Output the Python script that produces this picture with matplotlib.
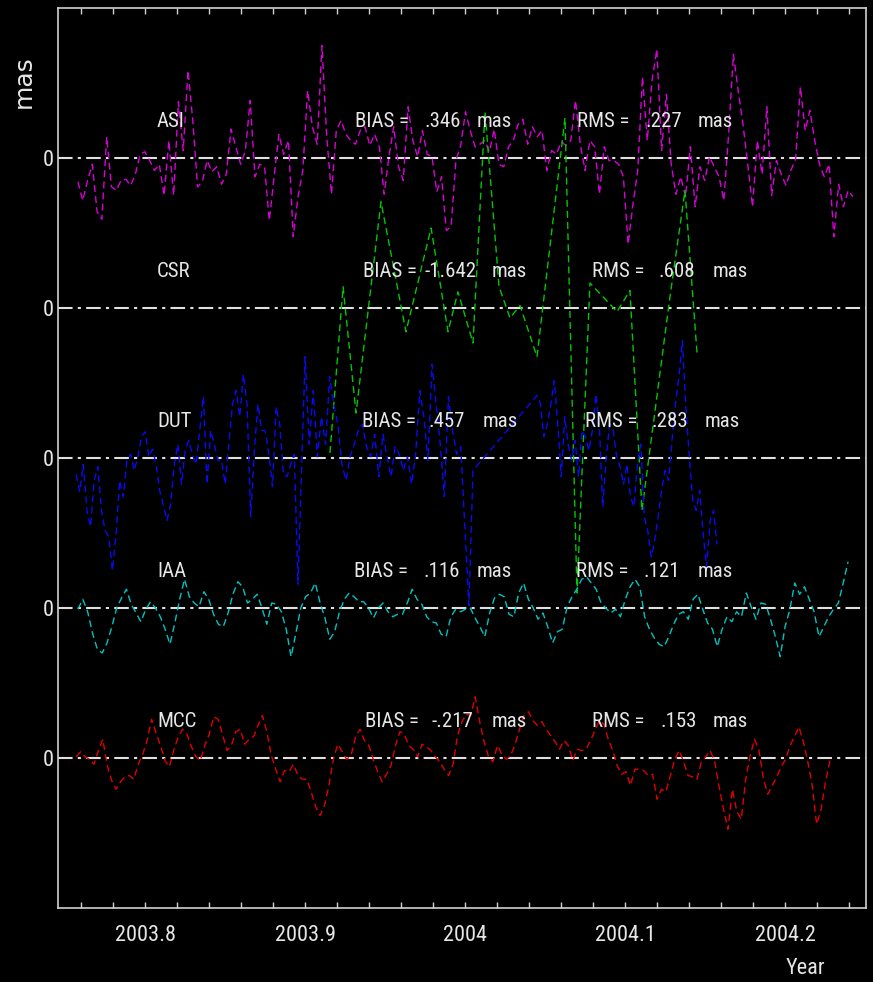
import numpy as np
import matplotlib
matplotlib.use('Agg')
import matplotlib.pyplot as plt
from matplotlib import font_manager
from matplotlib.ticker import MultipleLocator, FuncFormatter
from matplotlib.transforms import blended_transform_factory

# the reference uses a thin, very narrow vector font: take the narrowest family installed
nomes = {f.name for f in font_manager.fontManager.ttflist}
preferidas = ['Noto Sans ExtraCondensed Light', 'Noto Sans ExtraCondensed',
              'Noto Sans Condensed Light', 'Noto Sans Condensed',
              'Roboto Condensed Light', 'Roboto Condensed',
              'Open Sans Condensed Light', 'Liberation Sans Narrow']
FONTE = next((f for f in preferidas if f in nomes), None)
if FONTE is not None:
    plt.rcParams['font.family'] = [FONTE, 'DejaVu Sans']
    FS = 15 if 'Condensed' in FONTE else 13
else:
    plt.rcParams['font.family'] = 'DejaVu Sans'
    plt.rcParams['font.stretch'] = 'condensed'
    FS = 13

# residuals in mas, one list per centre
asi = [-0.19, -0.34, -0.18, -0.05, -0.43, -0.49, 0.17, -0.23, -0.26, -0.18,
       -0.17, -0.22, -0.13, 0.03, 0.05, -0.02, -0.10, -0.05, -0.30, 0.14,
       -0.30, 0.45, 0.06, 0.70, 0.30, -0.23, -0.19, -0.02, -0.11, -0.07,
       -0.21, -0.13, 0.23, 0.09, -0.05, 0.06, 0.46, -0.15, -0.05, -0.07,
       -0.50, -0.15, 0.19, 0.03, 0.14, -0.63, -0.31, -0.10, 0.54, 0.25,
       0.11, 0.90, 0.17, -0.29, 0.22, 0.30, 0.19, 0.14, 0.11, 0.22,
       0.25, 0.10, 0.19, 0.09, -0.29, 0.01, 0.25, -0.07, -0.18, 0.41,
       0.14, 0.01, 0.22, 0.03, 0.01, -0.27, -0.15, -0.58,
       -0.55, -0.02, 0.10, 0.37, 0.22, 0.09, 0.11, 0.14, 0.05, 0.23,
       -0.05, -0.07, 0.09, 0.14, 0.27, 0.31, 0.11, 0.25, 0.17, 0.22,
       -0.10, 0.06, 0.03, 0.13, 0.10, 0.14, 0.46, 0.11, -0.10, 0.14,
       0.09, -0.29, 0.09, -0.02, -0.02, -0.05, -0.15, -0.69, -0.37, -0.10,
       0.65, 0.14, 0.62, 0.87, 0.06, 0.51, -0.05, -0.29, -0.15, -0.31,
       0.09, -0.39, -0.07, -0.18, 0.01, -0.07, -0.15, -0.34, 0.19, 0.83,
       0.54, 0.27, -0.05, -0.39, 0.14, -0.13, 0.41, -0.30, -0.02, -0.13,
       -0.22, -0.10, -0.01, 0.57, 0.22, 0.38, 0.14, -0.05, -0.15, -0.05,
       -0.63, -0.21, -0.39, -0.26, -0.31]
asi_inicio, asi_fim = 2003.7581, 2004.2425

csr_x = [2003.9156, 2003.9238, 2003.9319, 2003.9475, 2003.9631, 2003.9788,
         2003.9894, 2003.9956, 2004.0050, 2004.0125, 2004.0213, 2004.0281,
         2004.0344, 2004.0450, 2004.0625, 2004.0700, 2004.0781, 2004.0950,
         2004.1031, 2004.1106, 2004.1281, 2004.1375, 2004.1450]
csr_y = [-1.16, 0.17, -0.84, 0.85, -0.19, 0.64, -0.19, 0.13, -0.28, 1.57,
         0.17, -0.08, 0.02, -0.39, 1.52, -2.28, 0.20, -0.03, 0.14, -1.62,
         0.09, 0.94, -0.36]

dut_a1 = [-0.13, -0.27, -0.05, -0.42, -0.55, -0.18, -0.07, -0.42, -0.58, -0.63,
          -0.90, -0.61, -0.18, -0.31, -0.02, 0.03, -0.10, 0.01, 0.17, 0.21,
          0.01, 0.07, -0.05, -0.26, -0.38, -0.50, -0.37, -0.05, 0.11, -0.21,
          0.06, 0.14, 0.03, -0.05, 0.22, 0.49, -0.21, 0.22, 0.11, -0.02,
          -0.02, -0.21, 0.11, 0.43, 0.54, 0.33, 0.67, 0.43, -0.47, 0.06,
          0.43, 0.22, 0.22, 0.03, -0.23, 0.41, 0.27, -0.13, -0.15, -0.05,
          0.03, -1.01]
dut_a1_inicio, dut_a1_fim = 2003.7569, 2003.8956
dut_a2 = [-0.23, 0.81, 0.11, 0.54, 0.01, 0.33, 0.11, 0.65,
          0.43, 0.27, -0.05, -0.18, 0.01, 0.11, 0.22, 0.27, 0.09, 0.01,
          0.19, -0.15, 0.19, 0.01, -0.15, 0.09, 0.03, -0.10, 0.01, -0.21,
          0.03, 0.54, 0.33, -0.02, 0.75, 0.43, 0.11, -0.31, 0.49, 0.22,
          0.03, 0.09, -0.55, -1.18, -0.10]
dut_a2_inicio, dut_a2_fim = 2003.8975, 2004.0050
dut_b = [0.50, 0.43, 0.17, 0.27, 0.43, 0.62, 0.27, -0.15, 0.33, 0.11,
         -0.02, 0.14, -0.15, 0.22, 0.17, 0.06, 0.22, 0.51, 0.27, -0.39,
         0.01, 0.27, 0.22, 0.01, -0.07, -0.21, -0.05, -0.31, -0.39, -0.05,
         0.11, -0.47, -0.58, -0.79, -0.66, -0.47, -0.26, -0.10, -0.18, 0.14,
         0.43, 0.65, 0.94, 0.41, 0.01, -0.34, -0.42, -0.26, -0.61, -0.87,
         -0.50, -0.42, -0.69]
dut_b_inicio, dut_b_fim = 2004.0450, 2004.1575

iaa = [-0.01, 0.07, -0.03, -0.20, -0.33, -0.36, -0.28, -0.15, 0.00, 0.08,
       0.15, 0.03, -0.04, -0.11, -0.01, 0.05, 0.00, -0.07, -0.17, -0.29,
       -0.12, 0.07, 0.23, 0.09, 0.04, 0.01, 0.13, 0.07, -0.05, -0.13,
       -0.15, -0.04, 0.11, 0.21, 0.17, 0.04, 0.07, 0.11, 0.00, -0.13,
       0.04, 0.03, -0.03, -0.17, -0.39, -0.20, 0.00, 0.09, 0.12, 0.20,
       0.04, -0.08, -0.25, -0.19, -0.03, 0.07, 0.12, 0.09, 0.05, 0.05,
       0.00, -0.08, 0.00, 0.04, -0.03, -0.07, -0.05, -0.05, 0.04, 0.15,
       0.07, 0.03, -0.07, -0.11, -0.12, -0.21,
       -0.23, -0.07, -0.01, -0.03, -0.01, 0.00, -0.08, -0.15, -0.23, -0.04,
       0.08, 0.11, 0.09, -0.05, -0.07, 0.12, 0.20, 0.07, 0.00, -0.09,
       -0.04, -0.15, -0.28, -0.19, -0.17, 0.01, 0.09, 0.15, 0.23, 0.25,
       0.20, 0.15, 0.04, 0.00, -0.04, -0.01, -0.07, 0.07, 0.17, 0.23,
       0.17, -0.07, -0.17, -0.24, -0.29, -0.31, -0.23, -0.13, -0.05, -0.03,
       -0.09, 0.07, 0.11, -0.01, -0.12, -0.17, -0.31, -0.17, -0.07, -0.11,
       -0.03, -0.07, 0.12, 0.01, -0.09, 0.04, 0.03, -0.09, -0.23, -0.39,
       -0.15, -0.01, 0.20, 0.11, 0.17, 0.07, -0.03, -0.23, -0.15, -0.07,
       -0.01, 0.04, 0.20, 0.37]
iaa_inicio, iaa_fim = 2003.7581, 2004.2394

mcc = [0.01, 0.05, 0.01, -0.01, -0.05, 0.06, 0.15, -0.06, -0.18, -0.25,
       -0.19, -0.15, -0.14, -0.17, -0.05, 0.03, 0.14, 0.31, 0.20, 0.10,
       -0.02, -0.07, 0.06, 0.17, 0.23, 0.19, 0.09, 0.01, -0.02, 0.10,
       0.19, 0.33, 0.31, 0.19, 0.06, 0.10, 0.21, 0.23, 0.11, 0.15,
       0.17, 0.26, 0.34, 0.21, 0.02, -0.09, -0.19, -0.10, -0.11, -0.05,
       -0.14, -0.17, -0.17, -0.27, -0.39, -0.46, -0.38, -0.22, -0.01, 0.11,
       0.05, -0.01, 0.02, 0.17, 0.23, 0.14, 0.10, -0.01, -0.11, -0.19,
       -0.13, -0.06, 0.10, 0.21, 0.19, 0.10, 0.07, 0.01, 0.11, 0.09,
       0.06, 0.01, -0.03, -0.09, -0.14, -0.05, 0.18, 0.29, 0.35,
       0.34, 0.49, 0.29, 0.13, 0.01, -0.03, 0.10, 0.03, -0.01, 0.02,
       0.11, 0.23, 0.34, 0.37, 0.30, 0.26, 0.29, 0.23, 0.18, 0.13,
       0.07, 0.14, 0.10, -0.02, 0.07, 0.06, 0.07, 0.14, 0.22, 0.30,
       0.27, 0.15, 0.06, -0.06, -0.13, -0.11, -0.22, -0.09, -0.09, -0.10,
       -0.14, -0.13, -0.33, -0.25, -0.27, -0.14, -0.01, 0.06, -0.03, -0.14,
       -0.15, -0.17, -0.03, 0.01, 0.06, -0.03, -0.23, -0.41, -0.57, -0.25,
       -0.43, -0.49, -0.17, 0.02, 0.15, 0.06, -0.17, -0.29, -0.22, -0.15,
       -0.07, -0.01, 0.10, 0.17, 0.25, 0.13, -0.03, -0.22, -0.53, -0.41,
       -0.19, -0.02]
mcc_inicio, mcc_fim = 2003.7570, 2004.2281

# stats printed on the plot
centros = ['ASI', 'CSR', 'DUT', 'IAA', 'MCC']
bias = ['.346', '-1.642', '.457', '.116', '-.217']
rms = ['.227', '.608', '.283', '.121', '.153']
offsets = [4.8, 3.6, 2.4, 1.2, 0.0]
cores = ['#d800d8', '#00c800', '#0a0af0', '#00c4c4', '#e00000']

# x positions (pixels) of the text pieces:
# label (left), "BIAS =" (left), value (right end), mas (left),
# "RMS =" (left), value (right end), mas (left)
pos_texto = {
    'ASI': [157, 355, 461, 477, 577, 682, 698],
    'CSR': [157, 363, 477, 492, 592, 695, 713],
    'DUT': [157, 362, 465, 483, 585, 688, 705],
    'IAA': [157, 354, 460, 477, 576, 680, 698],
    'MCC': [157, 365, 473, 492, 592, 697, 713],
}

W, H = 873, 982
X0, X1, Y0, Y1 = 58, 866, 8, 908
COR_TEXTO = '#e6e6e6'
COR_EIXO = '#d0d0d0'

fig = plt.figure(figsize=(W / 100, H / 100), dpi=100, facecolor='black')
ax = fig.add_axes([X0 / W, 1 - Y1 / H, (X1 - X0) / W, (Y1 - Y0) / H])
ax.set_facecolor('black')

estilo = dict(lw=1.0, linestyle=(0, (5, 3)))

series = [
    (np.linspace(asi_inicio, asi_fim, len(asi)), np.array(asi)),
    (np.array(csr_x), np.array(csr_y)),
    (np.concatenate([np.linspace(dut_a1_inicio, dut_a1_fim, len(dut_a1)),
                     np.linspace(dut_a2_inicio, dut_a2_fim, len(dut_a2)),
                     np.linspace(dut_b_inicio, dut_b_fim, len(dut_b))]),
     np.array(dut_a1 + dut_a2 + dut_b)),
    (np.linspace(iaa_inicio, iaa_fim, len(iaa)), np.array(iaa)),
    (np.linspace(mcc_inicio, mcc_fim, len(mcc)), np.array(mcc)),
]

for off in offsets:
    ax.axhline(off, color='#e0e0e0', lw=1.5, linestyle=(0, (7, 2.5, 1.5, 2.5)), zorder=1)

for (x, y), off, cor in zip(series, offsets, cores):
    ax.plot(x, y + off, color=cor, zorder=2, **estilo)

ax.set_xlim(2003.8 + (X0 - 145) / 1600, 2003.8 + (X1 - 145) / 1600)
ax.set_ylim(-1.2, 6.0)

# text rows
trans = blended_transform_factory(ax.transAxes, ax.transData)
def fx(px):
    return (px - X0) / (X1 - X0)

for nome, b, r, off in zip(centros, bias, rms, offsets):
    p = pos_texto[nome]
    pecas = [(nome, 'left'), ('BIAS =', 'left'), (b, 'right'), ('mas', 'left'),
             ('RMS =', 'left'), (r, 'right'), ('mas', 'left')]
    for px, (s, alin) in zip(p, pecas):
        ax.text(fx(px), off + 0.29, s, transform=trans, color=COR_TEXTO,
                fontsize=FS, ha=alin, va='center', zorder=3)

# axes styling
for sp in ax.spines.values():
    sp.set_color(COR_EIXO)
    sp.set_linewidth(1.2)

ax.set_yticks(offsets)
ax.set_yticklabels(['0'] * len(offsets))
ax.tick_params(axis='y', length=0, pad=3, labelcolor=COR_TEXTO, labelsize=FS + 1)

ax.xaxis.set_major_locator(MultipleLocator(0.1))
ax.xaxis.set_minor_locator(MultipleLocator(0.02))
ax.xaxis.set_major_formatter(FuncFormatter(lambda v, p: ('%.1f' % v).rstrip('0').rstrip('.')))
ax.tick_params(axis='x', which='both', direction='in', length=4.3, width=1,
               top=True, bottom=True, color=COR_EIXO, labelcolor=COR_TEXTO,
               labelsize=FS + 1, pad=12)

# the y unit in the reference is drawn wide, so it gets the wider family
fig.text(24 / W, 1 - 82 / H, 'mas', rotation=90, ha='center', va='center',
         color=COR_TEXTO, fontsize=18, family='DejaVu Sans')
fig.text(805 / W, 1 - 968 / H, 'Year', ha='center', va='center',
         color=COR_TEXTO, fontsize=FS + 1)

fig.savefig('out.png', dpi=100, facecolor='black')
plt.close(fig)
